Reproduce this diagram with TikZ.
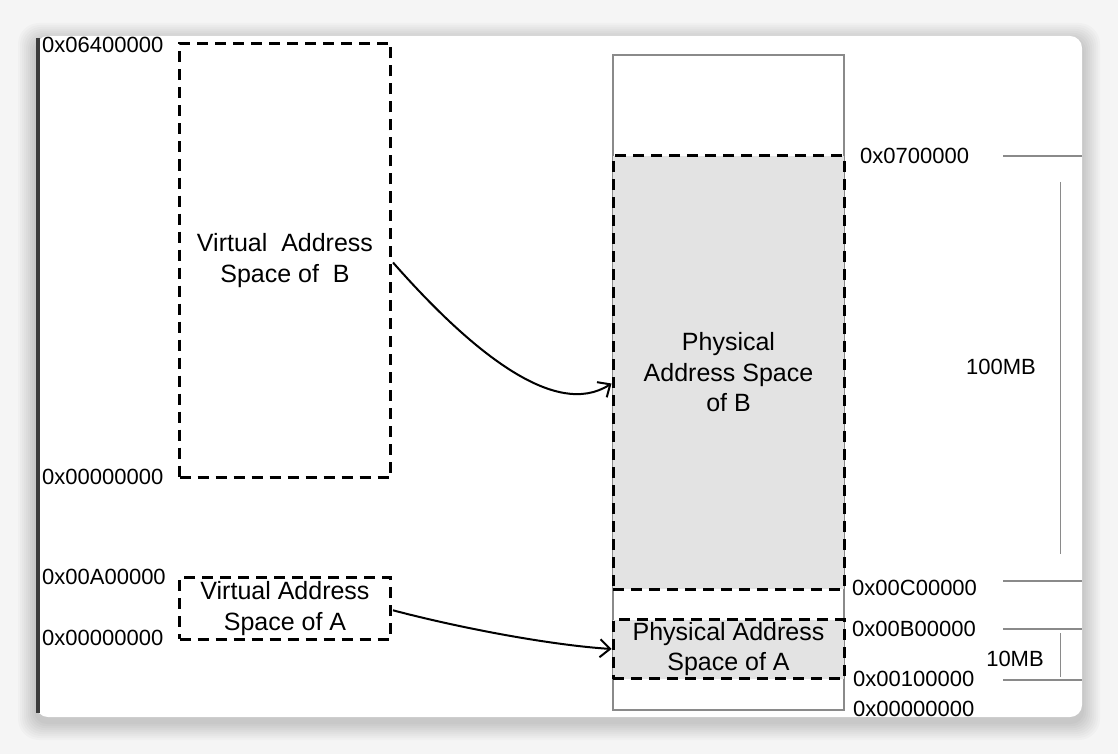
\documentclass[tikz,border=0pt]{standalone}
\usepackage{fontspec}
\setmainfont{Liberation Sans}
\usetikzlibrary{arrows.meta,calc}
\definecolor{bgcol}{HTML}{F5F5F5}
\definecolor{fillgrey}{HTML}{E3E3E3}
\definecolor{linegrey}{HTML}{8A8A8A}
\definecolor{darkedge}{HTML}{3C3C3C}
\begin{document}
\begin{tikzpicture}[x=1pt,y=-1pt,
  dbox/.style={draw=black, line width=3pt, dash pattern=on 11pt off 7pt, inner sep=0pt, align=center, font=\fontsize{25}{30.5}\selectfont},
  pbox/.style={dbox, fill=fillgrey},
  outerbox/.style={draw=linegrey, line width=1.3pt, inner sep=0pt},
  addr/.style={inner sep=0pt, font=\fontsize{22}{26}\selectfont},
  guide/.style={draw=linegrey, line width=1.5pt},
  conn/.style={line width=2pt, -{Straight Barb[length=10pt,width=18pt,line width=2pt]}}
]
\useasboundingbox (0,0) rectangle (1118,754);
\fill[bgcol] (0,0) rectangle (1118,754);
% shadow
\foreach \i in {1,...,9}{
  \fill[black, opacity=0.018, rounded corners={12+\i}] (36-2*\i,36-2*\i+5) rectangle (1082+2*\i,717+2*\i+5);
}
% card
\fill[white, rounded corners=12pt] (36,36) rectangle (1082,717);
\draw[darkedge, line width=3.5pt] (38,38) -- (38,713);

% virtual spaces
\node[dbox, minimum width=211pt, minimum height=434pt] (vb) at (285,260.5) {Virtual\ \ Address\\Space of\ \ B};
\node[dbox, minimum width=211pt, minimum height=61.5pt] (va) at (285,608.3) {Virtual Address\\Space of A};

% physical memory
\node[outerbox, minimum width=231pt, minimum height=655pt] (pm) at (728.5,382.5) {};
\node[pbox, minimum width=231pt, minimum height=433pt] (pb) at (728.5,372.5) {Physical\\Address Space\\of B};
\node[pbox, minimum width=231pt, minimum height=59pt] (pa) at (728.5,649) {Physical Address\\Space of A};

% left labels
\node[addr, anchor=west] (l1) at (42,45) {0x06400000};
\node[addr, anchor=west] (l2) at (42,477) {0x00000000};
\node[addr, anchor=west] (l3) at (42,577) {0x00A00000};
\node[addr, anchor=west] (l4) at (42,637.5) {0x00000000};

% right labels
\node[addr, anchor=west] (r1) at (860,155.5) {0x0700000};
\node[addr, anchor=west] (r2) at (852,588) {0x00C00000};
\node[addr, anchor=west] (r3) at (852,629) {0x00B00000};
\node[addr, anchor=west] (r4) at (853,679) {0x00100000};
\node[addr, anchor=west] (r5) at (853,709) {0x00000000};

\node[addr] (s1) at (1001,366.5) {100MB};
\node[addr] (s2) at (1015,658.5) {10MB};

% guides
\draw[guide] (1003,156) -- (1082,156);
\draw[guide] (1003,581) -- (1082,581);
\draw[guide] (1003,629) -- (1082,629);
\draw[guide] (1003,680) -- (1082,680);
\draw[guide] (1060.5,182) -- (1060.5,554);
\draw[guide] (1060.5,633) -- (1060.5,676.5);

% connectors
\draw[conn] ($(vb.east)+(1,2)$) .. controls (470,350) and (555,420) .. ($(pb.west)+(0,11)$);
\draw[conn] ($(va.east)+(1,2)$) .. controls (460,628) and (550,645) .. (pa.west);
\end{tikzpicture}
\end{document}
